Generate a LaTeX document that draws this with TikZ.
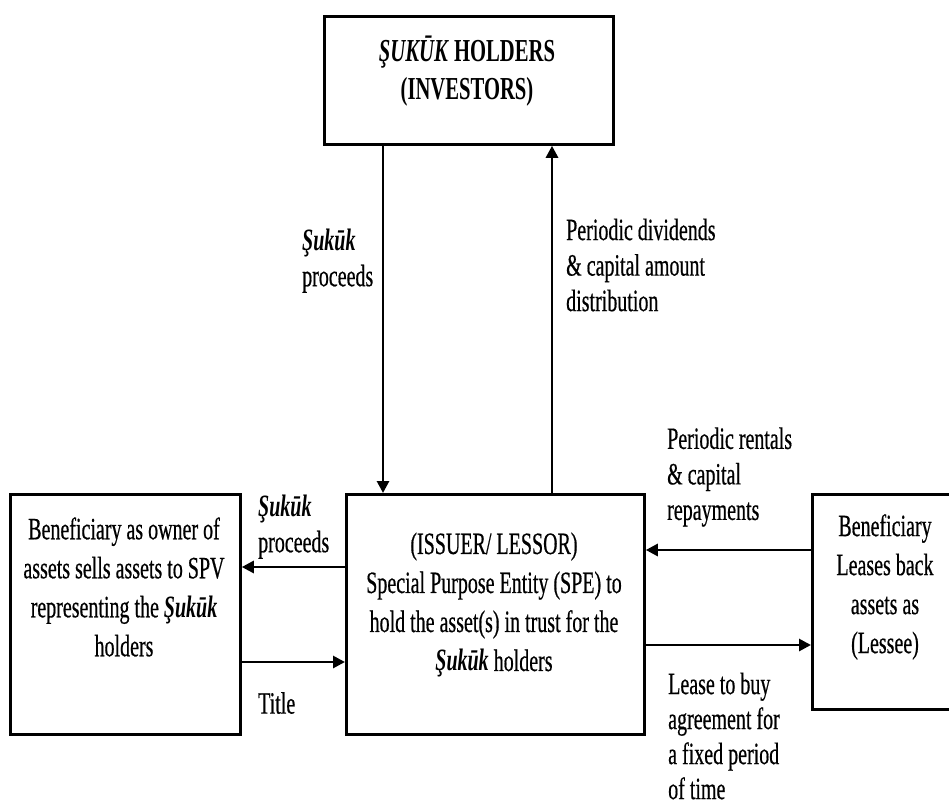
\documentclass[tikz,border=0pt]{standalone}
\usepackage{fontspec}
\setmainfont{Liberation Serif}[FakeStretch=0.645, UprightFeatures={FakeBold=0.5}, ItalicFeatures={FakeBold=0.5}]
\usetikzlibrary{arrows.meta}

\newcommand{\suk}{\textbf{\textit{Şukūk}}}

\begin{document}
\begin{tikzpicture}[
  x=1pt, y=-1pt,
  box/.style={draw, line width=2.8pt, rectangle, inner sep=0pt, anchor=north west},
  boxtext/.style={align=center, inner sep=0pt, font=\fontsize{31}{39}\selectfont},
  lbl/.style={align=left, inner sep=0pt, anchor=west, font=\fontsize{31}{35.5}\selectfont},
  arr/.style={line width=2.8pt, -{Triangle[length=12pt, width=12pt]}}
]
\useasboundingbox (0,0) rectangle (949,805);

% boxes
\node[box, minimum width=289pt, minimum height=128pt] (top) at (323,15) {};
\node[box, minimum width=230pt, minimum height=240pt] (left) at (9,493) {};
\node[box, minimum width=298pt, minimum height=240pt] (main) at (345,493) {};
\node[box, minimum width=170pt, minimum height=215pt] (right) at (811,493) {};

% box texts
\node[boxtext, font=\fontsize{32}{38}\selectfont\bfseries] (toptext) at (467,71)
  {\textit{ŞUKŪK} HOLDERS\\(INVESTORS)};
\node[boxtext] (lefttext) at (124,587)
  {Beneficiary as owner of\\assets sells assets to SPV\\representing the \suk\\holders};
\node[boxtext] (maintext) at (494,605)
  {(ISSUER/ LESSOR)\\Special Purpose Entity (SPE) to\\hold the asset(s) in trust for the\\\suk{} holders};
\node[boxtext] (righttext) at (885,587)
  {Beneficiary\\Leases back\\assets as\\(Lessee)};

% guide coordinates for the connectors
\coordinate (xdown) at (383,0);
\coordinate (xup) at (552,0);
\coordinate (yl1) at (0,567);
\coordinate (yl2) at (0,662);
\coordinate (yr1) at (0,550);
\coordinate (yr2) at (0,645);

% connectors
\draw[arr] (top.south -| xdown) -- (main.north -| xdown);
\draw[arr] (main.north -| xup) -- (top.south -| xup);
\draw[arr] (main.west |- yl1) -- (left.east |- yl1);
\draw[arr] (left.east |- yl2) -- (main.west |- yl2);
\draw[arr] (right.west |- yr1) -- (main.east |- yr1);
\draw[arr] (main.east |- yr2) -- (right.west |- yr2);

% connector labels
\node[lbl] (procdown) at (302,261) {\suk\\proceeds};
\node[lbl] (dividends) at (566,265) {Periodic dividends\\\& capital amount\\distribution};
\node[lbl] (procleft) at (258,527) {\suk\\proceeds};
\node[lbl] (title) at (258,703) {Title};
\node[lbl] (rentals) at (667,477) {Periodic rentals\\\& capital\\repayments};
\node[lbl, font=\fontsize{31}{35}\selectfont] (lease) at (668,736) {Lease to buy\\agreement for\\a fixed period\\of time};
\end{tikzpicture}
\end{document}
